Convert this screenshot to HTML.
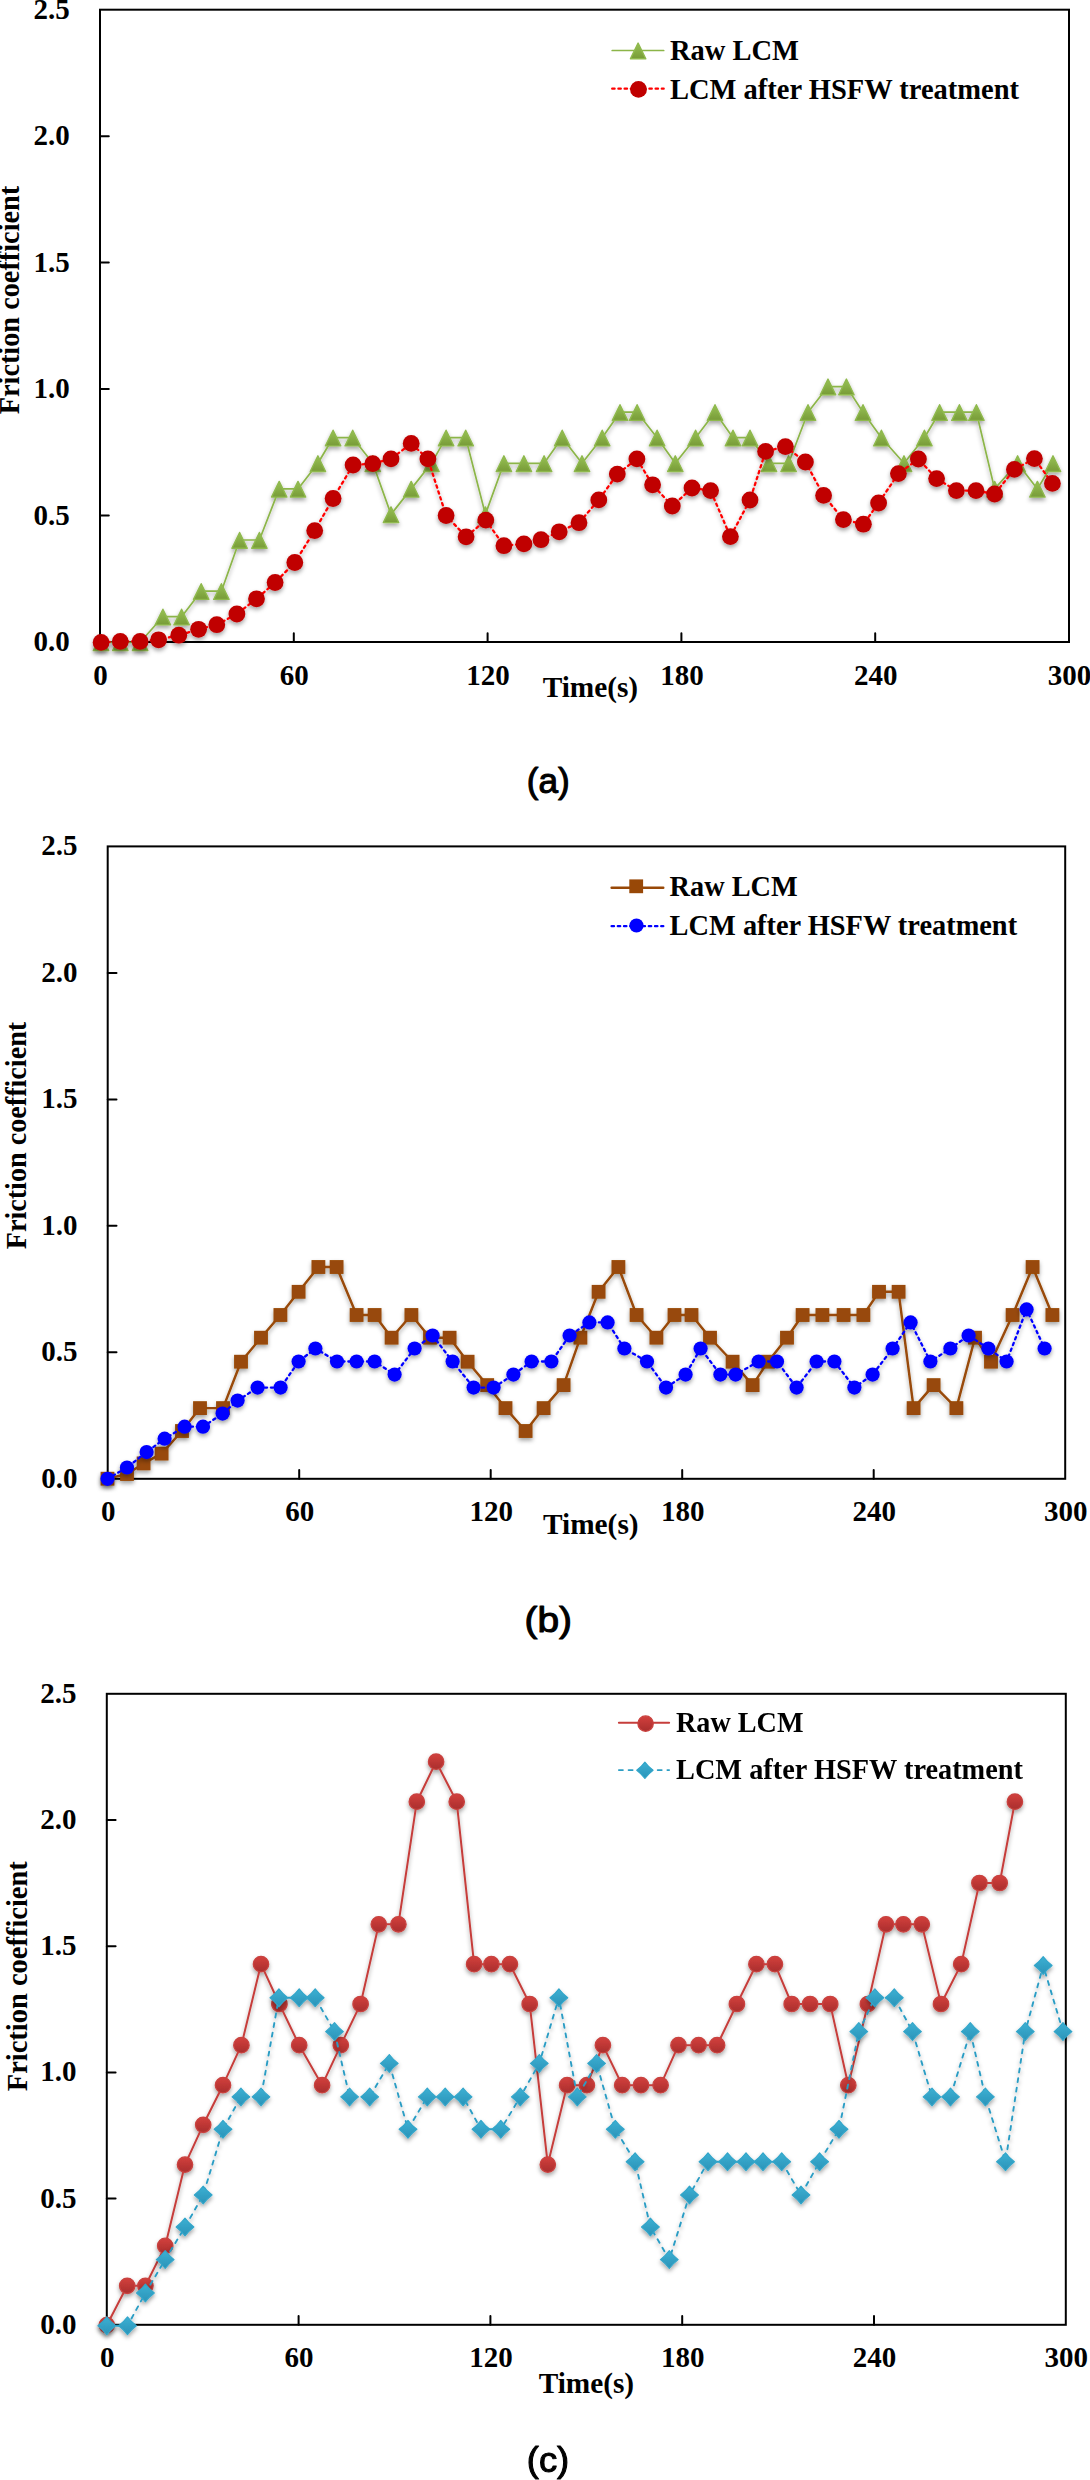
<!DOCTYPE html>
<html><head><meta charset="utf-8"><title>Friction coefficient</title>
<style>
html,body{margin:0;padding:0;background:#fff;}
body{width:1090px;height:2480px;overflow:hidden;font-family:"Liberation Serif",serif;}
svg{display:block}
text{fill:#000}
</style></head><body>
<svg width="1090" height="2480" viewBox="0 0 1090 2480">
<defs>
<filter id="sh" x="-50%" y="-50%" width="200%" height="220%"><feDropShadow dx="0" dy="2.6" stdDeviation="1.9" flood-color="#000" flood-opacity="0.36"/></filter>
<linearGradient id="gg" x1="0" y1="0" x2="0" y2="1"><stop offset="0" stop-color="#98C155"/><stop offset="1" stop-color="#779B37"/></linearGradient>
<linearGradient id="rg" x1="0" y1="0" x2="0" y2="1"><stop offset="0" stop-color="#D3403D"/><stop offset="1" stop-color="#A92E2D"/></linearGradient>
<linearGradient id="tg" x1="0" y1="0" x2="0" y2="1"><stop offset="0" stop-color="#3DB0D3"/><stop offset="1" stop-color="#2A93B8"/></linearGradient>
<path id="tri" d="M0 -7.5L7.7 8.2H-7.7Z" fill="url(#gg)" stroke="#8FB94D" stroke-width="1.4" stroke-linejoin="round"/>
<circle id="rc" r="8.4" fill="#C00000"/>
<rect id="sq" x="-6.9" y="-6.9" width="13.8" height="13.8" fill="#984807"/>
<circle id="bc" r="7.1" fill="#0000FF"/>
<circle id="cc" r="7.7" fill="url(#rg)" stroke="#C9423F" stroke-width="1.3"/>
<path id="di" d="M0 -8.9Q3.8 -3.8 8.9 0Q3.8 3.8 0 8.9Q-3.8 3.8 -8.9 0Q-3.8 -3.8 0 -8.9Z" fill="url(#tg)" stroke="#33A6CA" stroke-width="1.1" stroke-linejoin="round"/>
<path id="dil" d="M0 -8.2Q3.5 -3.5 8.2 0Q3.5 3.5 0 8.2Q-3.5 3.5 -8.2 0Q-3.5 -3.5 0 -8.2Z" fill="url(#tg)" stroke="#33A6CA" stroke-width="1.1" stroke-linejoin="round"/>
</defs>
<g id="ca">
<rect x="100" y="9.7" width="969" height="632.3" fill="none" stroke="#000" stroke-width="2"/><path d="M100 515.5h8.8M100 389.1h8.8M100 262.6h8.8M100 136.2h8.8M293.8 642v-8.8M487.6 642v-8.8M681.4 642v-8.8M875.2 642v-8.8" stroke="#000" stroke-width="2" stroke-linecap="round" fill="none"/><text x="69.7" y="651" text-anchor="end" font-family="Liberation Serif, serif" font-weight="bold" font-size="29">0.0</text><text x="69.7" y="524.5" text-anchor="end" font-family="Liberation Serif, serif" font-weight="bold" font-size="29">0.5</text><text x="69.7" y="398.1" text-anchor="end" font-family="Liberation Serif, serif" font-weight="bold" font-size="29">1.0</text><text x="69.7" y="271.6" text-anchor="end" font-family="Liberation Serif, serif" font-weight="bold" font-size="29">1.5</text><text x="69.7" y="145.2" text-anchor="end" font-family="Liberation Serif, serif" font-weight="bold" font-size="29">2.0</text><text x="69.7" y="18.7" text-anchor="end" font-family="Liberation Serif, serif" font-weight="bold" font-size="29">2.5</text><text x="100.5" y="684.6" text-anchor="middle" font-family="Liberation Serif, serif" font-weight="bold" font-size="29">0</text><text x="294.3" y="684.6" text-anchor="middle" font-family="Liberation Serif, serif" font-weight="bold" font-size="29">60</text><text x="488.1" y="684.6" text-anchor="middle" font-family="Liberation Serif, serif" font-weight="bold" font-size="29">120</text><text x="681.9" y="684.6" text-anchor="middle" font-family="Liberation Serif, serif" font-weight="bold" font-size="29">180</text><text x="875.7" y="684.6" text-anchor="middle" font-family="Liberation Serif, serif" font-weight="bold" font-size="29">240</text><text x="1069.5" y="684.6" text-anchor="middle" font-family="Liberation Serif, serif" font-weight="bold" font-size="29">300</text><text x="590.4" y="697.3" text-anchor="middle" font-family="Liberation Serif, serif" font-weight="bold" font-size="29" textLength="95.5" lengthAdjust="spacingAndGlyphs">Time(s)</text><text transform="translate(19.4 414.3) rotate(-90)" font-family="Liberation Serif, serif" font-weight="bold" font-size="29" textLength="228.5" lengthAdjust="spacingAndGlyphs">Friction coefficient</text>
<g filter="url(#sh)"><polyline points="101,642.3 120.3,642.3 140.1,642.3 162.9,616.7 181.6,616.7 201.2,591.2 221.4,591.2 239.6,540 259.4,540 279.2,488.9 298,488.9 317.9,463.3 333.1,437.7 352.7,437.7 372.8,463.3 391,514.4 411.2,488.9 431.4,463.3 446.1,437.7 465.7,437.7 485.4,514.4 503.9,463.3 523.9,463.3 544.1,463.3 562.2,437.7 582,463.3 602.2,437.7 620,412.2 637.1,412.2 657.1,437.7 675.3,463.3 695.6,437.7 715,412.2 733,437.7 750,437.7 769,463.3 788.6,463.3 808,412.2 828,386.6 846.4,386.6 863,412.2 881.4,437.7 904,463.3 924.4,437.7 939.6,412.2 959.4,412.2 976.4,412.2 994.6,488.9 1017.6,463.3 1037.4,488.9 1053,463.3" stroke="#8CB548" stroke-width="1.7" fill="none" stroke-linejoin="round" stroke-linecap="round"/><use href="#tri" x="101" y="642.3"/><use href="#tri" x="120.3" y="642.3"/><use href="#tri" x="140.1" y="642.3"/><use href="#tri" x="162.9" y="616.7"/><use href="#tri" x="181.6" y="616.7"/><use href="#tri" x="201.2" y="591.2"/><use href="#tri" x="221.4" y="591.2"/><use href="#tri" x="239.6" y="540"/><use href="#tri" x="259.4" y="540"/><use href="#tri" x="279.2" y="488.9"/><use href="#tri" x="298" y="488.9"/><use href="#tri" x="317.9" y="463.3"/><use href="#tri" x="333.1" y="437.7"/><use href="#tri" x="352.7" y="437.7"/><use href="#tri" x="372.8" y="463.3"/><use href="#tri" x="391" y="514.4"/><use href="#tri" x="411.2" y="488.9"/><use href="#tri" x="431.4" y="463.3"/><use href="#tri" x="446.1" y="437.7"/><use href="#tri" x="465.7" y="437.7"/><use href="#tri" x="485.4" y="514.4"/><use href="#tri" x="503.9" y="463.3"/><use href="#tri" x="523.9" y="463.3"/><use href="#tri" x="544.1" y="463.3"/><use href="#tri" x="562.2" y="437.7"/><use href="#tri" x="582" y="463.3"/><use href="#tri" x="602.2" y="437.7"/><use href="#tri" x="620" y="412.2"/><use href="#tri" x="637.1" y="412.2"/><use href="#tri" x="657.1" y="437.7"/><use href="#tri" x="675.3" y="463.3"/><use href="#tri" x="695.6" y="437.7"/><use href="#tri" x="715" y="412.2"/><use href="#tri" x="733" y="437.7"/><use href="#tri" x="750" y="437.7"/><use href="#tri" x="769" y="463.3"/><use href="#tri" x="788.6" y="463.3"/><use href="#tri" x="808" y="412.2"/><use href="#tri" x="828" y="386.6"/><use href="#tri" x="846.4" y="386.6"/><use href="#tri" x="863" y="412.2"/><use href="#tri" x="881.4" y="437.7"/><use href="#tri" x="904" y="463.3"/><use href="#tri" x="924.4" y="437.7"/><use href="#tri" x="939.6" y="412.2"/><use href="#tri" x="959.4" y="412.2"/><use href="#tri" x="976.4" y="412.2"/><use href="#tri" x="994.6" y="488.9"/><use href="#tri" x="1017.6" y="463.3"/><use href="#tri" x="1037.4" y="488.9"/><use href="#tri" x="1053" y="463.3"/></g>
<g filter="url(#sh)"><polyline points="101.1,642.4 120.3,641.4 140.1,641.4 158.6,639.8 178.8,635.2 198.6,629.3 216.8,624.7 236.9,614 256.5,598.8 275.1,582.5 294.8,562.5 314.7,530.6 333.1,498.5 353.1,465 372.8,463.6 391,458.9 411.2,443.4 427.9,458.9 446.1,515.5 466.1,536.8 485.8,520.1 503.9,545.7 523.9,543.9 541,539.7 559.2,531.8 579,522.7 598.8,499.9 617.3,474.1 636.9,458.9 652.6,484.8 672.3,506 692,488 710.6,490.6 730.4,536.6 750,500 765.6,451.4 785.4,446.6 805.4,462 823.6,495.4 843.4,519.6 863.4,524.2 878.6,503 898.4,473.6 918.4,459 936.6,478.6 956.4,490.6 976,490.6 994.6,494 1014.4,469.4 1034.4,458.6 1052.4,483.4" stroke="#FF0000" stroke-width="2.3" fill="none" stroke-dasharray="2.4 3.8" stroke-linejoin="round" stroke-linecap="round"/><use href="#rc" x="101.1" y="642.4"/><use href="#rc" x="120.3" y="641.4"/><use href="#rc" x="140.1" y="641.4"/><use href="#rc" x="158.6" y="639.8"/><use href="#rc" x="178.8" y="635.2"/><use href="#rc" x="198.6" y="629.3"/><use href="#rc" x="216.8" y="624.7"/><use href="#rc" x="236.9" y="614"/><use href="#rc" x="256.5" y="598.8"/><use href="#rc" x="275.1" y="582.5"/><use href="#rc" x="294.8" y="562.5"/><use href="#rc" x="314.7" y="530.6"/><use href="#rc" x="333.1" y="498.5"/><use href="#rc" x="353.1" y="465"/><use href="#rc" x="372.8" y="463.6"/><use href="#rc" x="391" y="458.9"/><use href="#rc" x="411.2" y="443.4"/><use href="#rc" x="427.9" y="458.9"/><use href="#rc" x="446.1" y="515.5"/><use href="#rc" x="466.1" y="536.8"/><use href="#rc" x="485.8" y="520.1"/><use href="#rc" x="503.9" y="545.7"/><use href="#rc" x="523.9" y="543.9"/><use href="#rc" x="541" y="539.7"/><use href="#rc" x="559.2" y="531.8"/><use href="#rc" x="579" y="522.7"/><use href="#rc" x="598.8" y="499.9"/><use href="#rc" x="617.3" y="474.1"/><use href="#rc" x="636.9" y="458.9"/><use href="#rc" x="652.6" y="484.8"/><use href="#rc" x="672.3" y="506"/><use href="#rc" x="692" y="488"/><use href="#rc" x="710.6" y="490.6"/><use href="#rc" x="730.4" y="536.6"/><use href="#rc" x="750" y="500"/><use href="#rc" x="765.6" y="451.4"/><use href="#rc" x="785.4" y="446.6"/><use href="#rc" x="805.4" y="462"/><use href="#rc" x="823.6" y="495.4"/><use href="#rc" x="843.4" y="519.6"/><use href="#rc" x="863.4" y="524.2"/><use href="#rc" x="878.6" y="503"/><use href="#rc" x="898.4" y="473.6"/><use href="#rc" x="918.4" y="459"/><use href="#rc" x="936.6" y="478.6"/><use href="#rc" x="956.4" y="490.6"/><use href="#rc" x="976" y="490.6"/><use href="#rc" x="994.6" y="494"/><use href="#rc" x="1014.4" y="469.4"/><use href="#rc" x="1034.4" y="458.6"/><use href="#rc" x="1052.4" y="483.4"/></g>
<g><path d="M612.2 50.5H663.7" stroke="#8CB548" stroke-width="1.7" fill="none" stroke-linejoin="round" stroke-linecap="round"/><use href="#tri" x="638.1" y="50.6"/><path d="M612.2 88.7H663.7" stroke="#FF0000" stroke-width="2.3" fill="none" stroke-dasharray="2.4 3.8" stroke-linejoin="round" stroke-linecap="round"/><use href="#rc" x="638.5" y="89.4"/><text x="670" y="60.4" font-family="Liberation Serif, serif" font-weight="bold" font-size="29" textLength="129" lengthAdjust="spacingAndGlyphs">Raw LCM</text><text x="670" y="98.5" font-family="Liberation Serif, serif" font-weight="bold" font-size="29" textLength="349" lengthAdjust="spacingAndGlyphs">LCM after HSFW treatment</text></g>
<text x="548.2" y="793.1" text-anchor="middle" textLength="43" lengthAdjust="spacingAndGlyphs" font-family="Liberation Sans, sans-serif" font-size="35" stroke="#000" stroke-width="1.05" stroke-linejoin="round">(a)</text>
</g>
<g id="cb">
<rect x="107.7" y="846.4" width="957.5" height="632.4" fill="none" stroke="#000" stroke-width="2"/><path d="M107.7 1352.3h8.8M107.7 1225.8h8.8M107.7 1099.4h8.8M107.7 972.9h8.8M299.2 1478.8v-8.8M490.7 1478.8v-8.8M682.2 1478.8v-8.8M873.7 1478.8v-8.8" stroke="#000" stroke-width="2" stroke-linecap="round" fill="none"/><text x="77.4" y="1487.8" text-anchor="end" font-family="Liberation Serif, serif" font-weight="bold" font-size="29">0.0</text><text x="77.4" y="1361.3" text-anchor="end" font-family="Liberation Serif, serif" font-weight="bold" font-size="29">0.5</text><text x="77.4" y="1234.8" text-anchor="end" font-family="Liberation Serif, serif" font-weight="bold" font-size="29">1.0</text><text x="77.4" y="1108.4" text-anchor="end" font-family="Liberation Serif, serif" font-weight="bold" font-size="29">1.5</text><text x="77.4" y="981.9" text-anchor="end" font-family="Liberation Serif, serif" font-weight="bold" font-size="29">2.0</text><text x="77.4" y="855.4" text-anchor="end" font-family="Liberation Serif, serif" font-weight="bold" font-size="29">2.5</text><text x="108.2" y="1521.4" text-anchor="middle" font-family="Liberation Serif, serif" font-weight="bold" font-size="29">0</text><text x="299.7" y="1521.4" text-anchor="middle" font-family="Liberation Serif, serif" font-weight="bold" font-size="29">60</text><text x="491.2" y="1521.4" text-anchor="middle" font-family="Liberation Serif, serif" font-weight="bold" font-size="29">120</text><text x="682.7" y="1521.4" text-anchor="middle" font-family="Liberation Serif, serif" font-weight="bold" font-size="29">180</text><text x="874.2" y="1521.4" text-anchor="middle" font-family="Liberation Serif, serif" font-weight="bold" font-size="29">240</text><text x="1065.7" y="1521.4" text-anchor="middle" font-family="Liberation Serif, serif" font-weight="bold" font-size="29">300</text><text x="590.8" y="1534.2" text-anchor="middle" font-family="Liberation Serif, serif" font-weight="bold" font-size="29" textLength="95.5" lengthAdjust="spacingAndGlyphs">Time(s)</text><text transform="translate(26.1 1249.3) rotate(-90)" font-family="Liberation Serif, serif" font-weight="bold" font-size="29" textLength="227.5" lengthAdjust="spacingAndGlyphs">Friction coefficient</text>
<g filter="url(#sh)"><polyline points="107.5,1478.7 127,1474 143.6,1463.4 161.6,1453.6 182,1431 200,1408.1 223,1408.1 241,1361.7 261,1337.7 280.4,1315 298.6,1291.8 318.4,1267 336.6,1267 356.6,1315 374.6,1315 391.6,1337.7 411.4,1315 430,1337.7 449.6,1337.7 467.6,1361.7 487.2,1385.1 505.5,1408.1 525.6,1431 543.6,1408.1 563.6,1385.1 580.4,1337.7 598.6,1291.8 618.4,1267 636.6,1315 656.4,1337.7 674.5,1315 691.5,1315 710,1337.7 732.6,1361.7 752.6,1385.1 768,1361.7 787,1337.7 802.6,1315 822.4,1315 843.6,1315 863.4,1315 879,1291.8 898.6,1291.8 913.6,1408.1 933.6,1385.1 956.4,1408.1 975,1337.7 991,1361.7 1012.6,1315 1032.6,1267 1052.4,1315" stroke="#984807" stroke-width="2.4" fill="none" stroke-linejoin="round" stroke-linecap="round"/><use href="#sq" x="107.5" y="1478.7"/><use href="#sq" x="127" y="1474"/><use href="#sq" x="143.6" y="1463.4"/><use href="#sq" x="161.6" y="1453.6"/><use href="#sq" x="182" y="1431"/><use href="#sq" x="200" y="1408.1"/><use href="#sq" x="223" y="1408.1"/><use href="#sq" x="241" y="1361.7"/><use href="#sq" x="261" y="1337.7"/><use href="#sq" x="280.4" y="1315"/><use href="#sq" x="298.6" y="1291.8"/><use href="#sq" x="318.4" y="1267"/><use href="#sq" x="336.6" y="1267"/><use href="#sq" x="356.6" y="1315"/><use href="#sq" x="374.6" y="1315"/><use href="#sq" x="391.6" y="1337.7"/><use href="#sq" x="411.4" y="1315"/><use href="#sq" x="430" y="1337.7"/><use href="#sq" x="449.6" y="1337.7"/><use href="#sq" x="467.6" y="1361.7"/><use href="#sq" x="487.2" y="1385.1"/><use href="#sq" x="505.5" y="1408.1"/><use href="#sq" x="525.6" y="1431"/><use href="#sq" x="543.6" y="1408.1"/><use href="#sq" x="563.6" y="1385.1"/><use href="#sq" x="580.4" y="1337.7"/><use href="#sq" x="598.6" y="1291.8"/><use href="#sq" x="618.4" y="1267"/><use href="#sq" x="636.6" y="1315"/><use href="#sq" x="656.4" y="1337.7"/><use href="#sq" x="674.5" y="1315"/><use href="#sq" x="691.5" y="1315"/><use href="#sq" x="710" y="1337.7"/><use href="#sq" x="732.6" y="1361.7"/><use href="#sq" x="752.6" y="1385.1"/><use href="#sq" x="768" y="1361.7"/><use href="#sq" x="787" y="1337.7"/><use href="#sq" x="802.6" y="1315"/><use href="#sq" x="822.4" y="1315"/><use href="#sq" x="843.6" y="1315"/><use href="#sq" x="863.4" y="1315"/><use href="#sq" x="879" y="1291.8"/><use href="#sq" x="898.6" y="1291.8"/><use href="#sq" x="913.6" y="1408.1"/><use href="#sq" x="933.6" y="1385.1"/><use href="#sq" x="956.4" y="1408.1"/><use href="#sq" x="975" y="1337.7"/><use href="#sq" x="991" y="1361.7"/><use href="#sq" x="1012.6" y="1315"/><use href="#sq" x="1032.6" y="1267"/><use href="#sq" x="1052.4" y="1315"/></g>
<g filter="url(#sh)"><polyline points="107.5,1478.8 127,1467.5 146.6,1452.1 164.6,1438.7 184.6,1426.7 203,1426.7 222.6,1413.6 237.6,1400.6 257.6,1387.6 280.6,1387.6 298.6,1361.5 315.4,1348.5 337,1361.5 356.6,1361.5 374.6,1361.5 394.6,1374.6 414.6,1348.5 432.6,1335.5 452.6,1361.5 473.6,1387.6 493.6,1387.6 513.4,1374.6 531.6,1361.5 551.4,1361.5 569.6,1335.5 589.4,1322.4 607.6,1322.4 624.4,1348.5 647,1361.5 666,1387.6 685.6,1374.6 700.6,1348.5 720.4,1374.6 735.6,1374.6 758.6,1361.5 777,1361.5 796.6,1387.6 816.6,1361.5 834.4,1361.5 854.4,1387.6 872.6,1374.6 892.6,1348.5 910.6,1322.4 930.4,1361.5 950.4,1348.5 968.6,1335.5 988.4,1348.5 1006.6,1361.5 1026.6,1309.4 1044.6,1348.5" stroke="#0000FF" stroke-width="2.3" fill="none" stroke-dasharray="2.4 3.8" stroke-linejoin="round" stroke-linecap="round"/><use href="#bc" x="107.5" y="1478.8"/><use href="#bc" x="127" y="1467.5"/><use href="#bc" x="146.6" y="1452.1"/><use href="#bc" x="164.6" y="1438.7"/><use href="#bc" x="184.6" y="1426.7"/><use href="#bc" x="203" y="1426.7"/><use href="#bc" x="222.6" y="1413.6"/><use href="#bc" x="237.6" y="1400.6"/><use href="#bc" x="257.6" y="1387.6"/><use href="#bc" x="280.6" y="1387.6"/><use href="#bc" x="298.6" y="1361.5"/><use href="#bc" x="315.4" y="1348.5"/><use href="#bc" x="337" y="1361.5"/><use href="#bc" x="356.6" y="1361.5"/><use href="#bc" x="374.6" y="1361.5"/><use href="#bc" x="394.6" y="1374.6"/><use href="#bc" x="414.6" y="1348.5"/><use href="#bc" x="432.6" y="1335.5"/><use href="#bc" x="452.6" y="1361.5"/><use href="#bc" x="473.6" y="1387.6"/><use href="#bc" x="493.6" y="1387.6"/><use href="#bc" x="513.4" y="1374.6"/><use href="#bc" x="531.6" y="1361.5"/><use href="#bc" x="551.4" y="1361.5"/><use href="#bc" x="569.6" y="1335.5"/><use href="#bc" x="589.4" y="1322.4"/><use href="#bc" x="607.6" y="1322.4"/><use href="#bc" x="624.4" y="1348.5"/><use href="#bc" x="647" y="1361.5"/><use href="#bc" x="666" y="1387.6"/><use href="#bc" x="685.6" y="1374.6"/><use href="#bc" x="700.6" y="1348.5"/><use href="#bc" x="720.4" y="1374.6"/><use href="#bc" x="735.6" y="1374.6"/><use href="#bc" x="758.6" y="1361.5"/><use href="#bc" x="777" y="1361.5"/><use href="#bc" x="796.6" y="1387.6"/><use href="#bc" x="816.6" y="1361.5"/><use href="#bc" x="834.4" y="1361.5"/><use href="#bc" x="854.4" y="1387.6"/><use href="#bc" x="872.6" y="1374.6"/><use href="#bc" x="892.6" y="1348.5"/><use href="#bc" x="910.6" y="1322.4"/><use href="#bc" x="930.4" y="1361.5"/><use href="#bc" x="950.4" y="1348.5"/><use href="#bc" x="968.6" y="1335.5"/><use href="#bc" x="988.4" y="1348.5"/><use href="#bc" x="1006.6" y="1361.5"/><use href="#bc" x="1026.6" y="1309.4"/><use href="#bc" x="1044.6" y="1348.5"/></g>
<g><path d="M611.6 887.8H663.3" stroke="#984807" stroke-width="2.4" fill="none" stroke-linejoin="round" stroke-linecap="round"/><use href="#sq" x="636.2" y="886.3"/><path d="M611.6 926.2H663.3" stroke="#0000FF" stroke-width="2.3" fill="none" stroke-dasharray="2.4 3.8" stroke-linejoin="round" stroke-linecap="round"/><use href="#bc" x="636.5" y="925.5"/><text x="669.6" y="896.3" font-family="Liberation Serif, serif" font-weight="bold" font-size="29" textLength="128" lengthAdjust="spacingAndGlyphs">Raw LCM</text><text x="669.6" y="934.5" font-family="Liberation Serif, serif" font-weight="bold" font-size="29" textLength="347.5" lengthAdjust="spacingAndGlyphs">LCM after HSFW treatment</text></g>
<text x="548.2" y="1632.2" text-anchor="middle" textLength="47.5" lengthAdjust="spacingAndGlyphs" font-family="Liberation Sans, sans-serif" font-size="35" stroke="#000" stroke-width="1.05" stroke-linejoin="round">(b)</text>
</g>
<g id="cc_">
<rect x="106.8" y="1693.8" width="959" height="631" fill="none" stroke="#000" stroke-width="2"/><path d="M106.8 2198.6h8.8M106.8 2072.4h8.8M106.8 1946.2h8.8M106.8 1820h8.8M298.6 2324.8v-8.8M490.4 2324.8v-8.8M682.2 2324.8v-8.8M874 2324.8v-8.8" stroke="#000" stroke-width="2" stroke-linecap="round" fill="none"/><text x="76.5" y="2333.8" text-anchor="end" font-family="Liberation Serif, serif" font-weight="bold" font-size="29">0.0</text><text x="76.5" y="2207.6" text-anchor="end" font-family="Liberation Serif, serif" font-weight="bold" font-size="29">0.5</text><text x="76.5" y="2081.4" text-anchor="end" font-family="Liberation Serif, serif" font-weight="bold" font-size="29">1.0</text><text x="76.5" y="1955.2" text-anchor="end" font-family="Liberation Serif, serif" font-weight="bold" font-size="29">1.5</text><text x="76.5" y="1829" text-anchor="end" font-family="Liberation Serif, serif" font-weight="bold" font-size="29">2.0</text><text x="76.5" y="1702.8" text-anchor="end" font-family="Liberation Serif, serif" font-weight="bold" font-size="29">2.5</text><text x="107.3" y="2367.4" text-anchor="middle" font-family="Liberation Serif, serif" font-weight="bold" font-size="29">0</text><text x="299.1" y="2367.4" text-anchor="middle" font-family="Liberation Serif, serif" font-weight="bold" font-size="29">60</text><text x="490.9" y="2367.4" text-anchor="middle" font-family="Liberation Serif, serif" font-weight="bold" font-size="29">120</text><text x="682.7" y="2367.4" text-anchor="middle" font-family="Liberation Serif, serif" font-weight="bold" font-size="29">180</text><text x="874.5" y="2367.4" text-anchor="middle" font-family="Liberation Serif, serif" font-weight="bold" font-size="29">240</text><text x="1066.3" y="2367.4" text-anchor="middle" font-family="Liberation Serif, serif" font-weight="bold" font-size="29">300</text><text x="586.4" y="2392.9" text-anchor="middle" font-family="Liberation Serif, serif" font-weight="bold" font-size="29" textLength="95.5" lengthAdjust="spacingAndGlyphs">Time(s)</text><text transform="translate(26.7 2091.2) rotate(-90)" font-family="Liberation Serif, serif" font-weight="bold" font-size="29" textLength="230" lengthAdjust="spacingAndGlyphs">Friction coefficient</text>
<g filter="url(#sh)"><polyline points="106.8,2325.2 127.2,2285.8 145.4,2285.8 165.2,2245.9 185,2164.6 203.2,2124.8 223,2085.2 241.4,2045.2 261,1964.2 279.4,2004 299.2,2045.2 322.1,2085.2 340.8,2045.2 360.6,2004 378.8,1924.3 398.4,1924.3 416.8,1801.7 436.1,1761.7 456.7,1801.7 474.1,1964.2 491.4,1964.2 509.9,1964.2 529.7,2004 547.8,2164.6 567.1,2085.2 586.9,2085.2 602.9,2045.2 622.2,2085.2 641,2085.2 660.6,2085.2 678.5,2045.2 698.6,2045.2 717.1,2045.2 736.9,2004 756.4,1964.2 774.9,1964.2 791.7,2004 810.1,2004 830.2,2004 848.3,2085.2 867.9,2004 886,1924.3 903.4,1924.3 921.8,1924.3 941,2004 961.2,1964.2 979.4,1883 999.7,1883 1014.9,1801.7" stroke="#C63E3B" stroke-width="2.0" fill="none" stroke-linejoin="round" stroke-linecap="round"/><use href="#cc" x="106.8" y="2325.2"/><use href="#cc" x="127.2" y="2285.8"/><use href="#cc" x="145.4" y="2285.8"/><use href="#cc" x="165.2" y="2245.9"/><use href="#cc" x="185" y="2164.6"/><use href="#cc" x="203.2" y="2124.8"/><use href="#cc" x="223" y="2085.2"/><use href="#cc" x="241.4" y="2045.2"/><use href="#cc" x="261" y="1964.2"/><use href="#cc" x="279.4" y="2004"/><use href="#cc" x="299.2" y="2045.2"/><use href="#cc" x="322.1" y="2085.2"/><use href="#cc" x="340.8" y="2045.2"/><use href="#cc" x="360.6" y="2004"/><use href="#cc" x="378.8" y="1924.3"/><use href="#cc" x="398.4" y="1924.3"/><use href="#cc" x="416.8" y="1801.7"/><use href="#cc" x="436.1" y="1761.7"/><use href="#cc" x="456.7" y="1801.7"/><use href="#cc" x="474.1" y="1964.2"/><use href="#cc" x="491.4" y="1964.2"/><use href="#cc" x="509.9" y="1964.2"/><use href="#cc" x="529.7" y="2004"/><use href="#cc" x="547.8" y="2164.6"/><use href="#cc" x="567.1" y="2085.2"/><use href="#cc" x="586.9" y="2085.2"/><use href="#cc" x="602.9" y="2045.2"/><use href="#cc" x="622.2" y="2085.2"/><use href="#cc" x="641" y="2085.2"/><use href="#cc" x="660.6" y="2085.2"/><use href="#cc" x="678.5" y="2045.2"/><use href="#cc" x="698.6" y="2045.2"/><use href="#cc" x="717.1" y="2045.2"/><use href="#cc" x="736.9" y="2004"/><use href="#cc" x="756.4" y="1964.2"/><use href="#cc" x="774.9" y="1964.2"/><use href="#cc" x="791.7" y="2004"/><use href="#cc" x="810.1" y="2004"/><use href="#cc" x="830.2" y="2004"/><use href="#cc" x="848.3" y="2085.2"/><use href="#cc" x="867.9" y="2004"/><use href="#cc" x="886" y="1924.3"/><use href="#cc" x="903.4" y="1924.3"/><use href="#cc" x="921.8" y="1924.3"/><use href="#cc" x="941" y="2004"/><use href="#cc" x="961.2" y="1964.2"/><use href="#cc" x="979.4" y="1883"/><use href="#cc" x="999.7" y="1883"/><use href="#cc" x="1014.9" y="1801.7"/></g>
<g filter="url(#sh)"><polyline points="106.8,2325.8 127.5,2325.8 145.4,2293 165.2,2259.6 185,2227 203.2,2195 223,2129.3 240.9,2096.9 261,2096.9 278.9,1997.7 299.2,1997.7 315.2,1997.7 334.5,2031.6 349.6,2096.9 369.7,2096.9 389.3,2063.4 408,2129.3 427.3,2096.9 445.2,2096.9 463.1,2096.9 481,2129.3 500.8,2129.3 520.3,2096.9 539.3,2063.4 558.9,1997.7 577.3,2096.9 596.6,2063.4 615.3,2129.3 635.1,2161.7 650.4,2227 669.3,2259.6 689.5,2195 708,2161.7 727.5,2161.7 746,2161.7 763,2161.7 781.7,2161.7 801,2195 819.6,2161.7 839,2129.3 858.8,2031.6 874.9,1997.7 894.3,1997.7 912.5,2031.6 932,2096.9 950.5,2096.9 970.3,2031.6 985.4,2096.9 1005.5,2161.7 1025.3,2031.6 1043.2,1965.5 1063,2031.6" stroke="#2C9DC4" stroke-width="1.9" fill="none" stroke-dasharray="4 5.7" stroke-linejoin="round" stroke-linecap="round"/><use href="#di" x="106.8" y="2325.8"/><use href="#di" x="127.5" y="2325.8"/><use href="#di" x="145.4" y="2293"/><use href="#di" x="165.2" y="2259.6"/><use href="#di" x="185" y="2227"/><use href="#di" x="203.2" y="2195"/><use href="#di" x="223" y="2129.3"/><use href="#di" x="240.9" y="2096.9"/><use href="#di" x="261" y="2096.9"/><use href="#di" x="278.9" y="1997.7"/><use href="#di" x="299.2" y="1997.7"/><use href="#di" x="315.2" y="1997.7"/><use href="#di" x="334.5" y="2031.6"/><use href="#di" x="349.6" y="2096.9"/><use href="#di" x="369.7" y="2096.9"/><use href="#di" x="389.3" y="2063.4"/><use href="#di" x="408" y="2129.3"/><use href="#di" x="427.3" y="2096.9"/><use href="#di" x="445.2" y="2096.9"/><use href="#di" x="463.1" y="2096.9"/><use href="#di" x="481" y="2129.3"/><use href="#di" x="500.8" y="2129.3"/><use href="#di" x="520.3" y="2096.9"/><use href="#di" x="539.3" y="2063.4"/><use href="#di" x="558.9" y="1997.7"/><use href="#di" x="577.3" y="2096.9"/><use href="#di" x="596.6" y="2063.4"/><use href="#di" x="615.3" y="2129.3"/><use href="#di" x="635.1" y="2161.7"/><use href="#di" x="650.4" y="2227"/><use href="#di" x="669.3" y="2259.6"/><use href="#di" x="689.5" y="2195"/><use href="#di" x="708" y="2161.7"/><use href="#di" x="727.5" y="2161.7"/><use href="#di" x="746" y="2161.7"/><use href="#di" x="763" y="2161.7"/><use href="#di" x="781.7" y="2161.7"/><use href="#di" x="801" y="2195"/><use href="#di" x="819.6" y="2161.7"/><use href="#di" x="839" y="2129.3"/><use href="#di" x="858.8" y="2031.6"/><use href="#di" x="874.9" y="1997.7"/><use href="#di" x="894.3" y="1997.7"/><use href="#di" x="912.5" y="2031.6"/><use href="#di" x="932" y="2096.9"/><use href="#di" x="950.5" y="2096.9"/><use href="#di" x="970.3" y="2031.6"/><use href="#di" x="985.4" y="2096.9"/><use href="#di" x="1005.5" y="2161.7"/><use href="#di" x="1025.3" y="2031.6"/><use href="#di" x="1043.2" y="1965.5"/><use href="#di" x="1063" y="2031.6"/></g>
<g><path d="M618.9 1722.7H669.1" stroke="#C63E3B" stroke-width="2.0" fill="none" stroke-linejoin="round" stroke-linecap="round"/><use href="#cc" x="645.6" y="1723.6"/><path d="M618.9 1770.1H669.1" stroke="#2C9DC4" stroke-width="1.9" fill="none" stroke-dasharray="4 5.7" stroke-linejoin="round" stroke-linecap="round"/><use href="#dil" x="644.9" y="1770.3"/><text x="676" y="1732.3" font-family="Liberation Serif, serif" font-weight="bold" font-size="29" textLength="127.5" lengthAdjust="spacingAndGlyphs">Raw LCM</text><text x="676" y="1779.3" font-family="Liberation Serif, serif" font-weight="bold" font-size="29" textLength="347" lengthAdjust="spacingAndGlyphs">LCM after HSFW treatment</text></g>
<text x="548" y="2472" text-anchor="middle" textLength="42.5" lengthAdjust="spacingAndGlyphs" font-family="Liberation Sans, sans-serif" font-size="35" stroke="#000" stroke-width="1.05" stroke-linejoin="round">(c)</text>
</g>
</svg>
</body></html>
